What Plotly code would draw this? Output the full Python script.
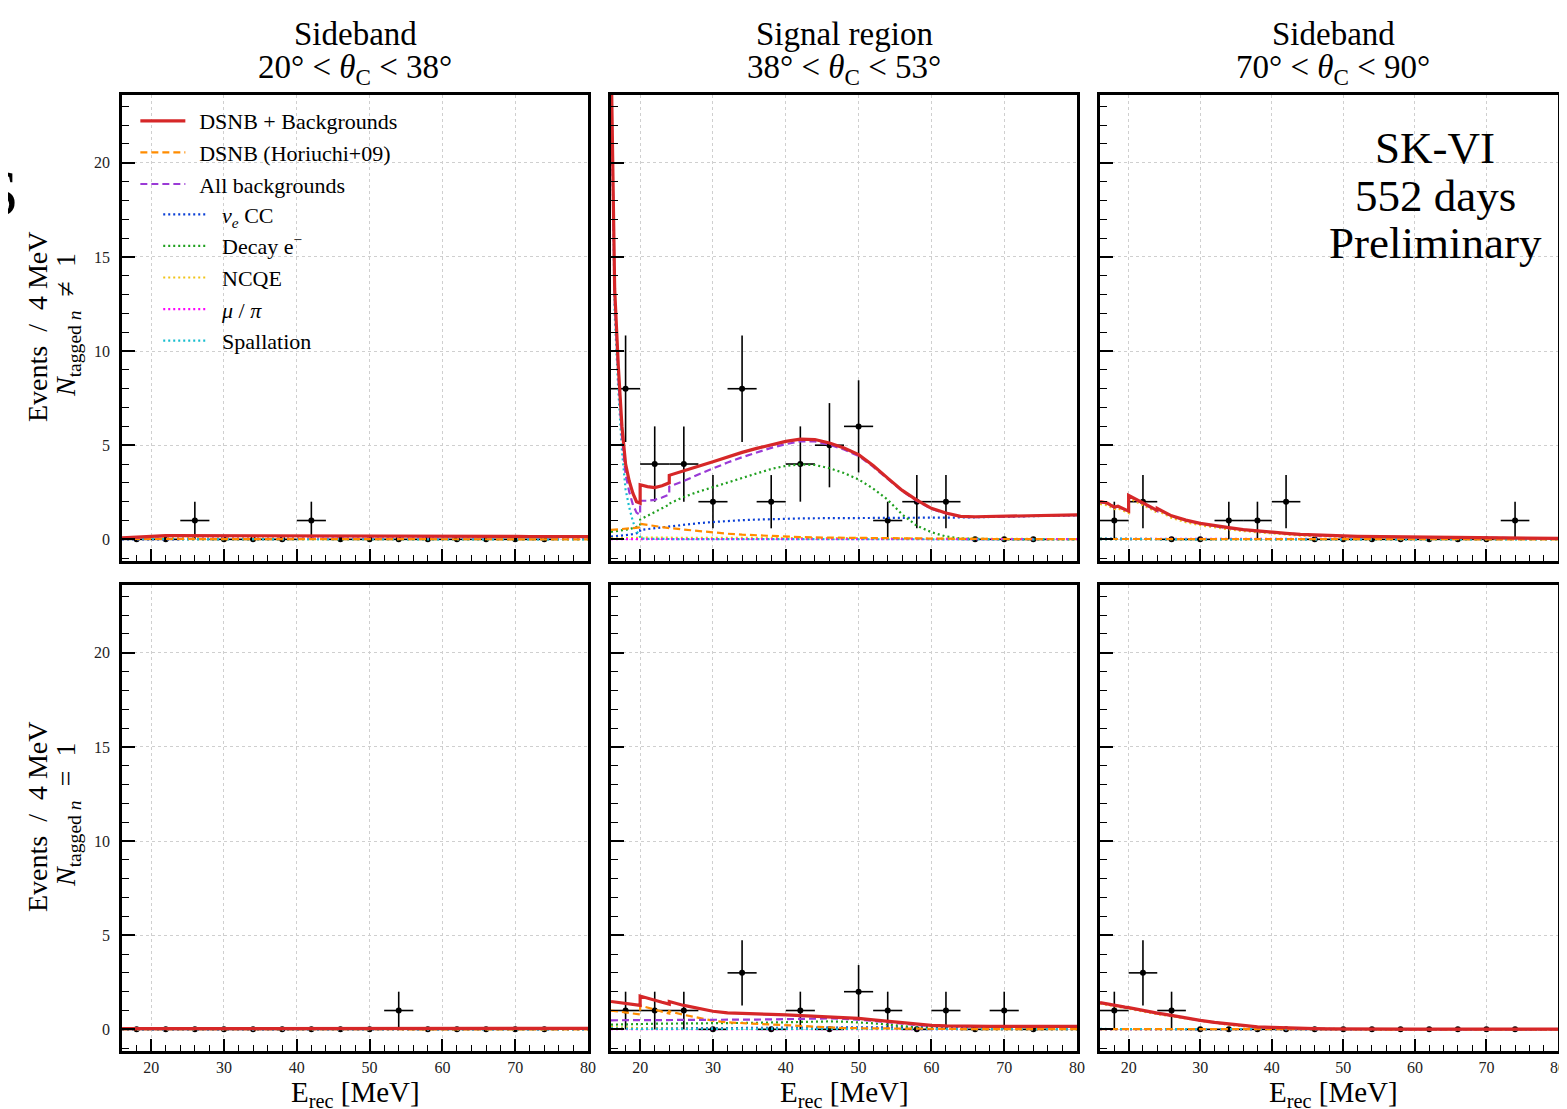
import plotly.graph_objects as go
import numpy as np

FONT = "Liberation Serif"

# Energy grid for model curves (duplicated points mark discontinuities)
E = [16, 16.5, 17, 17.5, 18, 18.5, 19, 19.5, 20, 20, 21, 22, 23, 24, 24,
     26, 28, 30, 32, 34, 36, 38, 40, 42, 44, 46, 48, 50, 52, 54, 56, 58, 60,
     62, 64, 66, 68, 70, 72, 74, 76, 78, 80]

# Data bin centres (4 MeV bins)
E_bins = [18, 22, 26, 30, 34, 38, 42, 46, 50, 54, 58, 62, 66, 70, 74]

# Observed counts per panel
cnt_TL = [0, 0, 1, 0, 0, 0, 1, 0, 0, 0, 0, 0, 0, 0, 0]
cnt_TM = [8, 4, 4, 2, 8, 2, 4, 5, 6, 1, 2, 2, 0, 0, 0]
cnt_TR = [1, 2, 0, 0, 1, 1, 2, 0, 0, 0, 0, 0, 0, 0, 1]
cnt_BL = [0, 0, 0, 0, 0, 0, 0, 0, 0, 1, 0, 0, 0, 0, 0]
cnt_BM = [1, 1, 1, 0, 3, 0, 1, 0, 2, 1, 0, 1, 0, 1, 0]
cnt_BR = [1, 3, 1, 0, 0, 0, 0, 0, 0, 0, 0, 0, 0, 0, 0]

# ---------------- Top-left: sideband 20-38 deg, N != 1 ----------------
TL_total = [0.08, 0.09, 0.10, 0.11, 0.12, 0.13, 0.14, 0.15, 0.16, 0.19, 0.19, 0.20, 0.20, 0.20, 0.20,
            0.20, 0.20, 0.20, 0.20, 0.20, 0.20, 0.20, 0.20, 0.20, 0.20, 0.20, 0.20, 0.19, 0.19, 0.19, 0.18, 0.18, 0.18,
            0.17, 0.17, 0.17, 0.16, 0.16, 0.15, 0.15, 0.15, 0.14, 0.14]
TL_bkg = [0.06, 0.07, 0.08, 0.09, 0.10, 0.11, 0.12, 0.13, 0.14, 0.16, 0.16, 0.17, 0.17, 0.17, 0.17,
          0.18, 0.18, 0.18, 0.18, 0.19, 0.19, 0.19, 0.19, 0.19, 0.19, 0.19, 0.19, 0.18, 0.18, 0.18, 0.17, 0.17, 0.17,
          0.17, 0.16, 0.16, 0.16, 0.15, 0.15, 0.15, 0.14, 0.14, 0.14]
TL_dsnb = [0.02, 0.02, 0.02, 0.02, 0.02, 0.02, 0.02, 0.02, 0.02, 0.03, 0.03, 0.03, 0.03, 0.03, 0.03,
           0.02, 0.02, 0.02, 0.02, 0.01, 0.01, 0.01, 0.01, 0.01, 0.01, 0.01, 0.01, 0.01, 0.01, 0.01, 0.01, 0.01, 0.01,
           0.00, 0.00, 0.00, 0.00, 0.00, 0.00, 0.00, 0.00, 0.00, 0.00]
TL_nue = [0.01, 0.01, 0.01, 0.01, 0.01, 0.01, 0.01, 0.01, 0.01, 0.02, 0.02, 0.02, 0.02, 0.02, 0.02,
          0.02, 0.02, 0.02, 0.03, 0.03, 0.03, 0.03, 0.03, 0.03, 0.03, 0.03, 0.03, 0.03, 0.03, 0.03, 0.03, 0.03, 0.03,
          0.03, 0.03, 0.03, 0.03, 0.03, 0.03, 0.03, 0.03, 0.03, 0.03]
TL_decay = [0.01, 0.01, 0.01, 0.01, 0.01, 0.01, 0.01, 0.02, 0.02, 0.03, 0.03, 0.03, 0.03, 0.03, 0.03,
            0.04, 0.04, 0.04, 0.04, 0.05, 0.05, 0.05, 0.05, 0.05, 0.05, 0.05, 0.05, 0.04, 0.04, 0.04, 0.03, 0.03, 0.03,
            0.02, 0.02, 0.02, 0.02, 0.01, 0.01, 0.01, 0.01, 0.01, 0.01]
TL_ncqe = [0.03, 0.04, 0.04, 0.05, 0.05, 0.06, 0.06, 0.06, 0.07, 0.07, 0.07, 0.07, 0.07, 0.07, 0.07,
           0.07, 0.07, 0.07, 0.06, 0.06, 0.06, 0.06, 0.06, 0.06, 0.06, 0.06, 0.06, 0.06, 0.06, 0.06, 0.06, 0.06, 0.06,
           0.06, 0.05, 0.05, 0.05, 0.05, 0.05, 0.05, 0.04, 0.04, 0.04]
TL_mupi = [0.01, 0.01, 0.02, 0.02, 0.03, 0.03, 0.04, 0.04, 0.04, 0.04, 0.04, 0.05, 0.05, 0.05, 0.05,
           0.05, 0.05, 0.05, 0.05, 0.05, 0.05, 0.05, 0.05, 0.05, 0.05, 0.05, 0.05, 0.05, 0.05, 0.05, 0.05, 0.05, 0.05,
           0.06, 0.06, 0.06, 0.06, 0.06, 0.06, 0.06, 0.06, 0.06, 0.06]
TL_spall = [0.01, 0.01, 0.01, 0.01, 0.01, 0.01, 0.01, 0.01, 0.01, 0.00, 0.00, 0.00, 0.00, 0.00, 0.00,
            0.00, 0.00, 0.00, 0.00, 0.00, 0.00, 0.00, 0.00, 0.00, 0.00, 0.00, 0.00, 0.00, 0.00, 0.00, 0.00, 0.00, 0.00,
            0.00, 0.00, 0.00, 0.00, 0.00, 0.00, 0.00, 0.00, 0.00, 0.00]

# ---------------- Top-middle: signal region, N != 1 ----------------
TM_total = [26.0, 13.3, 9.2, 6.0, 4.0, 3.1, 2.45, 2.0, 1.92, 2.9, 2.8, 2.75, 2.85, 3.0, 3.4,
            3.62, 3.88, 4.12, 4.38, 4.62, 4.83, 5.03, 5.2, 5.32, 5.3, 5.12, 4.85, 4.5, 3.92, 3.25, 2.6, 2.08, 1.65,
            1.4, 1.22, 1.2, 1.21, 1.22, 1.23, 1.25, 1.26, 1.28, 1.3]
TM_bkg = [25.5, 12.8, 8.7, 5.45, 3.45, 2.52, 1.85, 1.42, 1.3, 2.05, 2.05, 2.1, 2.22, 2.38, 2.8,
          3.1, 3.45, 3.77, 4.08, 4.36, 4.62, 4.86, 5.06, 5.2, 5.2, 5.03, 4.77, 4.43, 3.86, 3.2, 2.56, 2.04, 1.62,
          1.37, 1.2, 1.18, 1.2, 1.21, 1.22, 1.24, 1.25, 1.27, 1.29]
TM_dsnb = [0.5, 0.51, 0.52, 0.54, 0.56, 0.58, 0.6, 0.62, 0.64, 0.82, 0.76, 0.7, 0.65, 0.62, 0.6,
           0.52, 0.44, 0.37, 0.3, 0.25, 0.21, 0.17, 0.14, 0.12, 0.1, 0.09, 0.08, 0.07, 0.06, 0.05, 0.04, 0.04, 0.03,
           0.03, 0.02, 0.02, 0.02, 0.01, 0.01, 0.01, 0.01, 0.01, 0.01]
TM_nue = [0.15, 0.16, 0.17, 0.19, 0.21, 0.24, 0.28, 0.33, 0.38, 0.5, 0.55, 0.6, 0.65, 0.69, 0.7,
          0.78, 0.86, 0.92, 0.98, 1.02, 1.05, 1.08, 1.1, 1.11, 1.12, 1.12, 1.13, 1.13, 1.13, 1.14, 1.14, 1.14, 1.15,
          1.15, 1.16, 1.17, 1.18, 1.19, 1.21, 1.22, 1.24, 1.26, 1.28]
TM_decay = [0.4, 0.42, 0.44, 0.47, 0.5, 0.54, 0.6, 0.68, 0.72, 1.05, 1.25, 1.45, 1.65, 1.85, 1.9,
            2.25, 2.53, 2.78, 3.03, 3.28, 3.52, 3.74, 3.9, 3.98, 3.95, 3.78, 3.52, 3.18, 2.7, 2.1, 1.32, 0.72, 0.38,
            0.15, 0.05, 0.02, 0.01, 0.0, 0.0, 0.0, 0.0, 0.0, 0.0]
TM_ncqe = [0.05, 0.05, 0.06, 0.06, 0.07, 0.07, 0.08, 0.08, 0.08, 0.09, 0.09, 0.09, 0.09, 0.09, 0.09,
           0.09, 0.09, 0.09, 0.09, 0.09, 0.09, 0.08, 0.08, 0.08, 0.08, 0.07, 0.07, 0.07, 0.06, 0.06, 0.05, 0.05, 0.04,
           0.04, 0.03, 0.03, 0.03, 0.02, 0.02, 0.02, 0.02, 0.01, 0.01]
TM_mupi = [0.01, 0.01, 0.01, 0.01, 0.01, 0.01, 0.01, 0.01, 0.01, 0.01, 0.01, 0.01, 0.01, 0.01, 0.01,
           0.01, 0.01, 0.01, 0.01, 0.01, 0.01, 0.01, 0.01, 0.01, 0.01, 0.01, 0.01, 0.01, 0.01, 0.01, 0.01, 0.01, 0.01,
           0.01, 0.01, 0.01, 0.01, 0.01, 0.01, 0.01, 0.01, 0.01, 0.01]
TM_spall = [25.0, 12.0, 7.9, 4.7, 2.65, 1.7, 0.95, 0.45, 0.12, 0.05, 0.03, 0.02, 0.02, 0.01, 0.01,
            0.01, 0.01, 0.01, 0.01, 0.0, 0.0, 0.0, 0.0, 0.0, 0.0, 0.0, 0.0, 0.0, 0.0, 0.0, 0.0, 0.0, 0.0,
            0.0, 0.0, 0.0, 0.0, 0.0, 0.0, 0.0, 0.0, 0.0, 0.0]

# ---------------- Top-right: sideband 70-90 deg, N != 1 ----------------
TR_total = [2.0, 1.96, 1.93, 1.82, 1.72, 1.76, 1.66, 1.57, 1.5, 2.33, 2.14, 1.95, 1.74, 1.52, 1.64,
            1.25, 1.02, 0.85, 0.72, 0.62, 0.52, 0.44, 0.38, 0.32, 0.26, 0.22, 0.2, 0.18, 0.16, 0.15, 0.14, 0.13, 0.12,
            0.11, 0.1, 0.1, 0.09, 0.09, 0.08, 0.07, 0.06, 0.06, 0.05]
TR_bkg = [1.98, 1.94, 1.91, 1.8, 1.7, 1.74, 1.64, 1.55, 1.48, 2.3, 2.11, 1.92, 1.71, 1.5, 1.62,
          1.23, 1.0, 0.83, 0.7, 0.6, 0.51, 0.43, 0.37, 0.31, 0.25, 0.21, 0.19, 0.17, 0.15, 0.14, 0.13, 0.12, 0.11,
          0.1, 0.1, 0.09, 0.09, 0.08, 0.08, 0.07, 0.06, 0.06, 0.05]
TR_dsnb = [0.02, 0.02, 0.02, 0.02, 0.02, 0.02, 0.02, 0.02, 0.02, 0.03, 0.03, 0.03, 0.03, 0.02, 0.02,
           0.02, 0.02, 0.02, 0.02, 0.02, 0.01, 0.01, 0.01, 0.01, 0.01, 0.01, 0.01, 0.01, 0.01, 0.01, 0.01, 0.01, 0.01,
           0.01, 0.0, 0.0, 0.0, 0.0, 0.0, 0.0, 0.0, 0.0, 0.0]
TR_nue = [0.01, 0.01, 0.01, 0.01, 0.01, 0.01, 0.01, 0.01, 0.01, 0.02, 0.02, 0.02, 0.02, 0.02, 0.02,
          0.02, 0.02, 0.02, 0.02, 0.02, 0.02, 0.02, 0.02, 0.02, 0.02, 0.02, 0.02, 0.02, 0.02, 0.02, 0.02, 0.02, 0.02,
          0.02, 0.02, 0.02, 0.02, 0.02, 0.02, 0.02, 0.02, 0.02, 0.02]
TR_decay = [0.01, 0.01, 0.01, 0.01, 0.01, 0.01, 0.01, 0.01, 0.01, 0.02, 0.02, 0.02, 0.02, 0.02, 0.02,
            0.02, 0.02, 0.02, 0.02, 0.02, 0.02, 0.02, 0.02, 0.02, 0.02, 0.01, 0.01, 0.01, 0.01, 0.01, 0.01, 0.01, 0.01,
            0.01, 0.01, 0.01, 0.01, 0.01, 0.01, 0.01, 0.01, 0.01, 0.01]
TR_ncqe = [1.88, 1.84, 1.81, 1.71, 1.61, 1.65, 1.56, 1.47, 1.4, 2.2, 2.02, 1.83, 1.63, 1.42, 1.54,
           1.14, 0.91, 0.75, 0.62, 0.53, 0.44, 0.37, 0.31, 0.26, 0.2, 0.17, 0.15, 0.13, 0.11, 0.1, 0.09, 0.08, 0.07,
           0.06, 0.06, 0.05, 0.05, 0.04, 0.04, 0.03, 0.03, 0.03, 0.02]
TR_mupi = [0.03, 0.03, 0.03, 0.03, 0.03, 0.03, 0.03, 0.03, 0.03, 0.03, 0.03, 0.03, 0.03, 0.03, 0.03,
           0.03, 0.03, 0.03, 0.03, 0.03, 0.03, 0.02, 0.02, 0.02, 0.02, 0.02, 0.02, 0.02, 0.02, 0.02, 0.02, 0.02, 0.02,
           0.02, 0.02, 0.02, 0.02, 0.02, 0.02, 0.02, 0.02, 0.02, 0.02]
TR_spall = [0.05, 0.05, 0.05, 0.04, 0.04, 0.04, 0.03, 0.03, 0.03, 0.03, 0.02, 0.02, 0.02, 0.01, 0.01,
            0.01, 0.0, 0.0, 0.0, 0.0, 0.0, 0.0, 0.0, 0.0, 0.0, 0.0, 0.0, 0.0, 0.0, 0.0, 0.0, 0.0, 0.0,
            0.0, 0.0, 0.0, 0.0, 0.0, 0.0, 0.0, 0.0, 0.0, 0.0]

# ---------------- Bottom-left: sideband 20-38 deg, N == 1 ----------------
BL_total = [0.04, 0.04, 0.04, 0.04, 0.04, 0.04, 0.04, 0.04, 0.04, 0.05, 0.05, 0.05, 0.05, 0.05, 0.05,
            0.05, 0.05, 0.05, 0.05, 0.05, 0.05, 0.05, 0.05, 0.05, 0.05, 0.05, 0.05, 0.05, 0.05, 0.05, 0.05, 0.05, 0.05,
            0.05, 0.05, 0.05, 0.05, 0.05, 0.05, 0.05, 0.05, 0.05, 0.05]
BL_bkg = [0.03, 0.03, 0.03, 0.03, 0.03, 0.03, 0.03, 0.03, 0.03, 0.04, 0.04, 0.04, 0.04, 0.04, 0.04,
          0.04, 0.04, 0.04, 0.04, 0.04, 0.04, 0.04, 0.04, 0.04, 0.04, 0.04, 0.04, 0.04, 0.04, 0.04, 0.04, 0.04, 0.04,
          0.04, 0.04, 0.04, 0.04, 0.04, 0.04, 0.04, 0.04, 0.04, 0.04]
BL_dsnb = [0.01, 0.01, 0.01, 0.01, 0.01, 0.01, 0.01, 0.01, 0.01, 0.01, 0.01, 0.01, 0.01, 0.01, 0.01,
           0.01, 0.01, 0.01, 0.01, 0.01, 0.01, 0.01, 0.0, 0.0, 0.0, 0.0, 0.0, 0.0, 0.0, 0.0, 0.0, 0.0, 0.0,
           0.0, 0.0, 0.0, 0.0, 0.0, 0.0, 0.0, 0.0, 0.0, 0.0]
BL_nue = [0.0, 0.0, 0.0, 0.0, 0.0, 0.0, 0.0, 0.0, 0.0, 0.01, 0.01, 0.01, 0.01, 0.01, 0.01,
          0.01, 0.01, 0.01, 0.01, 0.01, 0.01, 0.01, 0.01, 0.01, 0.01, 0.01, 0.01, 0.01, 0.01, 0.01, 0.01, 0.01, 0.01,
          0.01, 0.01, 0.01, 0.01, 0.01, 0.01, 0.01, 0.01, 0.01, 0.01]
BL_decay = [0.01, 0.01, 0.01, 0.01, 0.01, 0.01, 0.01, 0.01, 0.01, 0.01, 0.01, 0.01, 0.01, 0.01, 0.01,
            0.01, 0.01, 0.01, 0.01, 0.01, 0.01, 0.01, 0.01, 0.01, 0.01, 0.01, 0.01, 0.01, 0.01, 0.01, 0.01, 0.01, 0.01,
            0.01, 0.01, 0.01, 0.01, 0.01, 0.01, 0.01, 0.01, 0.01, 0.01]
BL_ncqe = [0.01, 0.01, 0.01, 0.01, 0.01, 0.01, 0.01, 0.01, 0.01, 0.01, 0.01, 0.01, 0.01, 0.01, 0.01,
           0.01, 0.01, 0.01, 0.01, 0.01, 0.01, 0.01, 0.01, 0.01, 0.01, 0.01, 0.01, 0.01, 0.01, 0.01, 0.01, 0.01, 0.01,
           0.01, 0.01, 0.01, 0.01, 0.01, 0.01, 0.01, 0.01, 0.01, 0.01]
BL_mupi = [0.01, 0.01, 0.01, 0.01, 0.01, 0.01, 0.01, 0.01, 0.01, 0.01, 0.01, 0.01, 0.01, 0.01, 0.01,
           0.01, 0.01, 0.01, 0.01, 0.01, 0.01, 0.01, 0.01, 0.01, 0.01, 0.01, 0.01, 0.01, 0.01, 0.01, 0.01, 0.01, 0.01,
           0.01, 0.01, 0.01, 0.01, 0.01, 0.01, 0.01, 0.01, 0.01, 0.01]
BL_spall = [0.0, 0.0, 0.0, 0.0, 0.0, 0.0, 0.0, 0.0, 0.0, 0.0, 0.0, 0.0, 0.0, 0.0, 0.0,
            0.0, 0.0, 0.0, 0.0, 0.0, 0.0, 0.0, 0.0, 0.0, 0.0, 0.0, 0.0, 0.0, 0.0, 0.0, 0.0, 0.0, 0.0,
            0.0, 0.0, 0.0, 0.0, 0.0, 0.0, 0.0, 0.0, 0.0, 0.0]

# ---------------- Bottom-middle: signal region, N == 1 ----------------
BM_total = [1.48, 1.45, 1.43, 1.4, 1.37, 1.34, 1.31, 1.28, 1.27, 1.77, 1.65, 1.54, 1.44, 1.34, 1.48,
            1.27, 1.1, 0.96, 0.88, 0.84, 0.81, 0.79, 0.77, 0.74, 0.71, 0.67, 0.63, 0.58, 0.5, 0.42, 0.34, 0.27, 0.21,
            0.18, 0.16, 0.16, 0.16, 0.16, 0.16, 0.16, 0.16, 0.16, 0.16]
BM_bkg = [0.48, 0.48, 0.48, 0.48, 0.48, 0.48, 0.48, 0.48, 0.48, 0.5, 0.5, 0.5, 0.5, 0.5, 0.52,
          0.5, 0.5, 0.5, 0.51, 0.51, 0.52, 0.53, 0.55, 0.57, 0.58, 0.58, 0.56, 0.52, 0.45, 0.38, 0.3, 0.23, 0.18,
          0.16, 0.15, 0.15, 0.15, 0.15, 0.15, 0.15, 0.15, 0.15, 0.15]
BM_dsnb = [1.0, 0.97, 0.95, 0.92, 0.89, 0.86, 0.83, 0.8, 0.79, 1.27, 1.15, 1.04, 0.94, 0.84, 0.96,
           0.77, 0.6, 0.46, 0.37, 0.33, 0.29, 0.26, 0.22, 0.17, 0.13, 0.09, 0.07, 0.06, 0.05, 0.04, 0.04, 0.04, 0.03,
           0.02, 0.01, 0.01, 0.01, 0.01, 0.01, 0.01, 0.01, 0.01, 0.01]
BM_nue = [0.04, 0.04, 0.04, 0.04, 0.04, 0.04, 0.05, 0.05, 0.05, 0.05, 0.05, 0.05, 0.05, 0.06, 0.06,
          0.06, 0.07, 0.07, 0.07, 0.08, 0.08, 0.08, 0.09, 0.09, 0.09, 0.1, 0.1, 0.1, 0.1, 0.11, 0.11, 0.11, 0.12,
          0.12, 0.12, 0.13, 0.13, 0.13, 0.13, 0.14, 0.14, 0.14, 0.14]
BM_decay = [0.25, 0.25, 0.26, 0.26, 0.27, 0.27, 0.28, 0.28, 0.28, 0.29, 0.29, 0.3, 0.3, 0.3, 0.3,
            0.31, 0.31, 0.32, 0.33, 0.34, 0.35, 0.37, 0.39, 0.41, 0.42, 0.42, 0.41, 0.38, 0.32, 0.25, 0.17, 0.1, 0.05,
            0.02, 0.01, 0.0, 0.0, 0.0, 0.0, 0.0, 0.0, 0.0, 0.0]
BM_ncqe = [0.12, 0.11, 0.1, 0.09, 0.08, 0.08, 0.07, 0.07, 0.06, 0.06, 0.05, 0.05, 0.04, 0.04, 0.04,
           0.03, 0.03, 0.03, 0.03, 0.02, 0.02, 0.02, 0.02, 0.02, 0.02, 0.02, 0.02, 0.02, 0.02, 0.01, 0.01, 0.01, 0.01,
           0.01, 0.01, 0.01, 0.01, 0.01, 0.01, 0.01, 0.01, 0.01, 0.01]
BM_mupi = [0.01, 0.01, 0.01, 0.01, 0.01, 0.01, 0.01, 0.01, 0.01, 0.01, 0.01, 0.01, 0.01, 0.01, 0.01,
           0.01, 0.01, 0.01, 0.01, 0.01, 0.01, 0.01, 0.01, 0.01, 0.01, 0.01, 0.01, 0.01, 0.01, 0.01, 0.01, 0.01, 0.01,
           0.01, 0.01, 0.01, 0.01, 0.01, 0.01, 0.01, 0.01, 0.01, 0.01]
BM_spall = [0.06, 0.05, 0.05, 0.04, 0.04, 0.03, 0.03, 0.03, 0.03, 0.02, 0.02, 0.02, 0.02, 0.02, 0.02,
            0.02, 0.02, 0.02, 0.02, 0.02, 0.02, 0.02, 0.02, 0.02, 0.02, 0.02, 0.02, 0.02, 0.02, 0.01, 0.01, 0.01, 0.01,
            0.01, 0.01, 0.01, 0.01, 0.01, 0.01, 0.01, 0.01, 0.01, 0.01]

# ---------------- Bottom-right: sideband 70-90 deg, N == 1 ----------------
BR_total = [1.42, 1.38, 1.34, 1.3, 1.27, 1.24, 1.21, 1.18, 1.15, 1.15, 1.07, 1.0, 0.93, 0.86, 0.86,
            0.74, 0.6, 0.48, 0.37, 0.28, 0.2, 0.13, 0.1, 0.07, 0.05, 0.04, 0.03, 0.02, 0.02, 0.02, 0.01, 0.01, 0.01,
            0.01, 0.01, 0.01, 0.01, 0.01, 0.01, 0.01, 0.01, 0.01, 0.01]
BR_bkg = [1.41, 1.37, 1.33, 1.29, 1.26, 1.23, 1.2, 1.17, 1.14, 1.14, 1.06, 0.99, 0.92, 0.85, 0.85,
          0.73, 0.59, 0.47, 0.36, 0.27, 0.19, 0.12, 0.09, 0.06, 0.04, 0.03, 0.02, 0.02, 0.02, 0.02, 0.01, 0.01, 0.01,
          0.01, 0.01, 0.01, 0.01, 0.01, 0.01, 0.01, 0.01, 0.01, 0.01]
BR_dsnb = [0.01, 0.01, 0.01, 0.01, 0.01, 0.01, 0.01, 0.01, 0.01, 0.01, 0.01, 0.01, 0.01, 0.01, 0.01,
           0.01, 0.01, 0.01, 0.01, 0.01, 0.01, 0.01, 0.01, 0.01, 0.01, 0.0, 0.0, 0.0, 0.0, 0.0, 0.0, 0.0, 0.0,
           0.0, 0.0, 0.0, 0.0, 0.0, 0.0, 0.0, 0.0, 0.0, 0.0]
BR_nue = [0.01, 0.01, 0.01, 0.01, 0.01, 0.01, 0.01, 0.01, 0.01, 0.01, 0.01, 0.01, 0.01, 0.01, 0.01,
          0.01, 0.01, 0.01, 0.01, 0.01, 0.01, 0.01, 0.01, 0.01, 0.01, 0.01, 0.01, 0.01, 0.01, 0.01, 0.01, 0.01, 0.01,
          0.01, 0.01, 0.01, 0.01, 0.01, 0.01, 0.01, 0.01, 0.01, 0.01]
BR_decay = [0.01, 0.01, 0.01, 0.01, 0.01, 0.01, 0.01, 0.01, 0.01, 0.01, 0.01, 0.01, 0.01, 0.01, 0.01,
            0.01, 0.01, 0.01, 0.01, 0.01, 0.01, 0.01, 0.01, 0.01, 0.0, 0.0, 0.0, 0.0, 0.0, 0.0, 0.0, 0.0, 0.0,
            0.0, 0.0, 0.0, 0.0, 0.0, 0.0, 0.0, 0.0, 0.0, 0.0]
BR_ncqe = [1.37, 1.33, 1.29, 1.25, 1.22, 1.19, 1.16, 1.13, 1.1, 1.1, 1.02, 0.95, 0.88, 0.81, 0.81,
           0.69, 0.56, 0.44, 0.33, 0.24, 0.16, 0.1, 0.07, 0.04, 0.03, 0.02, 0.01, 0.01, 0.01, 0.01, 0.0, 0.0, 0.0,
           0.0, 0.0, 0.0, 0.0, 0.0, 0.0, 0.0, 0.0, 0.0, 0.0]
BR_mupi = [0.01, 0.01, 0.01, 0.01, 0.01, 0.01, 0.01, 0.01, 0.01, 0.01, 0.01, 0.01, 0.01, 0.01, 0.01,
           0.01, 0.01, 0.01, 0.01, 0.01, 0.01, 0.0, 0.0, 0.0, 0.0, 0.0, 0.0, 0.0, 0.0, 0.0, 0.0, 0.0, 0.0,
           0.0, 0.0, 0.0, 0.0, 0.0, 0.0, 0.0, 0.0, 0.0, 0.0]
BR_spall = [0.02, 0.02, 0.02, 0.02, 0.02, 0.02, 0.02, 0.02, 0.02, 0.02, 0.02, 0.02, 0.02, 0.01, 0.01,
            0.01, 0.01, 0.01, 0.0, 0.0, 0.0, 0.0, 0.0, 0.0, 0.0, 0.0, 0.0, 0.0, 0.0, 0.0, 0.0, 0.0, 0.0,
            0.0, 0.0, 0.0, 0.0, 0.0, 0.0, 0.0, 0.0, 0.0, 0.0]

# Labels
LS = "\u2009\u2009"
legend_names = [LS + "DSNB + Backgrounds", LS + "DSNB (Horiuchi+09)", LS + "All backgrounds",
                LS + "<i>ν<sub>e</sub></i> CC", LS + "Decay e<sup>−</sup>", LS + "NCQE",
                LS + "<i>μ</i> / <i>π</i>", LS + "Spallation"]
col_titles_1 = ["Sideband", "Signal region", "Sideband"]
col_titles_2 = ["20° &lt; <i>θ</i><sub>C</sub> &lt; 38°",
                "38° &lt; <i>θ</i><sub>C</sub> &lt; 53°",
                "70° &lt; <i>θ</i><sub>C</sub> &lt; 90°"]
row_titles_2 = ["<i>N</i><sub>tagged <i>n</i></sub>  ≠  1", "<i>N</i><sub>tagged <i>n</i></sub>  =  1"]

# ---------------- Styles ----------------
styles = [
    dict(color="#d62728", width=3.2, dash="solid"),        # total
    dict(color="#ff8c00", width=2.2, dash="7px,4px"),      # DSNB
    dict(color="#9a3ad6", width=2.2, dash="7px,4px"),      # all bkg
    dict(color="#0a3fd6", width=2.2, dash="2px,3px"),      # nue CC
    dict(color="#1fa01f", width=2.2, dash="2px,3px"),      # decay e
    dict(color="#f0c419", width=2.2, dash="2px,3px"),      # NCQE
    dict(color="#ff00ff", width=2.2, dash="2px,3px"),      # mu/pi
    dict(color="#17becf", width=2.2, dash="2px,3px"),      # spallation
]

panels = [
    (cnt_TL, [TL_total, TL_dsnb, TL_bkg, TL_nue, TL_decay, TL_ncqe, TL_mupi, TL_spall]),
    (cnt_TM, [TM_total, TM_dsnb, TM_bkg, TM_nue, TM_decay, TM_ncqe, TM_mupi, TM_spall]),
    (cnt_TR, [TR_total, TR_dsnb, TR_bkg, TR_nue, TR_decay, TR_ncqe, TR_mupi, TR_spall]),
    (cnt_BL, [BL_total, BL_dsnb, BL_bkg, BL_nue, BL_decay, BL_ncqe, BL_mupi, BL_spall]),
    (cnt_BM, [BM_total, BM_dsnb, BM_bkg, BM_nue, BM_decay, BM_ncqe, BM_mupi, BM_spall]),
    (cnt_BR, [BR_total, BR_dsnb, BR_bkg, BR_nue, BR_decay, BR_ncqe, BR_mupi, BR_spall]),
]

W, H = 1567, 1109
# page offset / horizontal scale compensation (page body margin)
SC = 1567 / 1575.0
def fx(p):
    return p / SC - 8
def fy(p):
    return p - 8

col_px = [(122, 588), (611, 1077), (1100, 1558)]
col_centres = [355, 844, 1333]
row_px = [(95, 561), (585, 1051)]

fig = go.Figure()
layout_axes = {}

for i, (cnt, curves) in enumerate(panels):
    r, c = divmod(i, 3)
    xa = "x" if i == 0 else f"x{i+1}"
    ya = "y" if i == 0 else f"y{i+1}"
    cnt_arr = np.array(cnt, dtype=float)
    fig.add_trace(go.Scatter(
        x=E_bins, y=cnt, mode="markers", xaxis=xa, yaxis=ya, showlegend=False,
        marker=dict(color="black", size=6),
        error_y=dict(type="data", array=np.sqrt(cnt_arr), color="black", thickness=1.6, width=0),
        error_x=dict(type="constant", value=2, color="black", thickness=1.6, width=0),
        hoverinfo="skip"))
    order = [3, 4, 5, 6, 7, 1, 2, 0]
    for k in order:
        st = styles[k]
        fig.add_trace(go.Scatter(
            x=E, y=curves[k], mode="lines", xaxis=xa, yaxis=ya,
            name=legend_names[k], showlegend=(i == 0),
            legend=("legend" if k < 3 else "legend2"),
            legendrank=k + 1,
            line=dict(color=st["color"], width=st["width"], dash=st["dash"]),
            hoverinfo="skip"))

    x0, x1 = fx(col_px[c][0]), fx(col_px[c][1])
    y0, y1 = fy(row_px[r][0]), fy(row_px[r][1])
    common = dict(showline=True, linecolor="black", linewidth=2.5, mirror=True,
                  ticks="inside", tickcolor="black", zeroline=False,
                  showgrid=True, gridcolor="#cfcfcf", griddash="dot", gridwidth=1,
                  tickfont=dict(family=FONT, size=16, color="#222"))
    layout_axes["xaxis" if i == 0 else f"xaxis{i+1}"] = dict(
        common, domain=[x0 / W, x1 / W], anchor=ya, range=[16, 80],
        tickmode="linear", tick0=0, dtick=10, ticklen=12, tickwidth=2.2,
        minor=dict(ticks="inside", dtick=2, tick0=0, ticklen=6, tickwidth=1.3, tickcolor="black", showgrid=False),
        showticklabels=(r == 1))
    layout_axes["yaxis" if i == 0 else f"yaxis{i+1}"] = dict(
        common, domain=[1 - y1 / H, 1 - y0 / H], anchor=xa, range=[-1.15, 23.6],
        tickmode="linear", tick0=0, dtick=5, ticklen=13, tickwidth=2.2, ticklabelstandoff=6,
        minor=dict(ticks="inside", dtick=1, tick0=0, ticklen=7, tickwidth=1.3, tickcolor="black", showgrid=False),
        showticklabels=(c == 0))

annotations = []
def ann(text, xpx, ypx, size, angle=0, xanchor="center", yanchor="middle"):
    annotations.append(dict(text=text, x=fx(xpx) / W, y=1 - fy(ypx) / H, xref="paper", yref="paper",
                            showarrow=False, textangle=angle, xanchor=xanchor, yanchor=yanchor,
                            font=dict(family=FONT, size=size, color="black")))

for c in range(3):
    cx = col_centres[c]
    ann(col_titles_1[c], cx, 34, 33)
    ann(col_titles_2[c], cx, 69, 33)
    ann("E<sub>rec</sub> [MeV]", cx, 1094, 29)

for r in range(2):
    cy = (row_px[r][0] + row_px[r][1]) / 2
    ann("Events  /  4 MeV", 37, cy - 1, 28, angle=-90)
    ann(row_titles_2[r], 67, cy - 3, 28, angle=-90)

ann("SK-VI", 1435, 148, 45)
ann("552 days", 1435, 196, 45)
ann("Preliminary", 1435, 243, 45)
ann("S", 0, 193, 66)

fig.update_layout(
    width=W, height=H, autosize=False,
    margin=dict(l=0, r=0, t=0, b=0),
    paper_bgcolor="white", plot_bgcolor="white",
    font=dict(family=FONT, color="black"),
    annotations=annotations,
    legend=dict(x=128 / W, y=1 - 92 / H, xanchor="left", yanchor="top",
                bgcolor="rgba(0,0,0,0)", borderwidth=0, itemwidth=45,
                font=dict(family=FONT, size=22, color="black"), tracegroupgap=0,
                traceorder="normal"),
    legend2=dict(x=151 / W, y=1 - 185.5 / H, xanchor="left", yanchor="top",
                 bgcolor="rgba(0,0,0,0)", borderwidth=0, itemwidth=45,
                 font=dict(family=FONT, size=22, color="black"), tracegroupgap=0,
                 traceorder="normal"),
    **layout_axes,
)

fig.write_html("out.html")
